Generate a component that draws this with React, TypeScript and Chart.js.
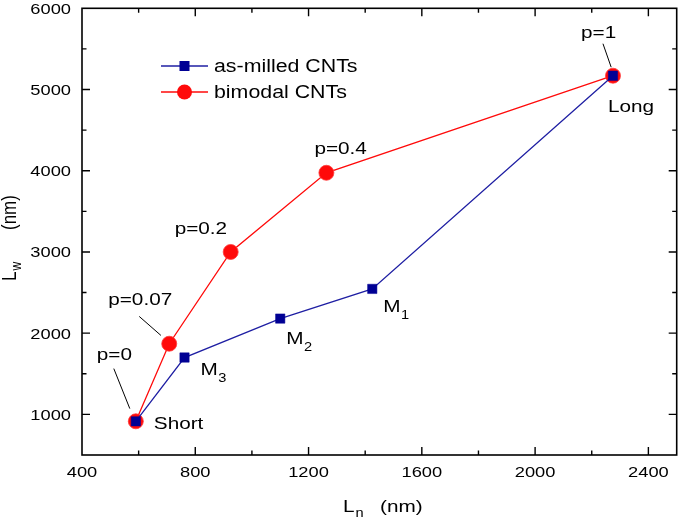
import React, { useEffect, useRef } from "react";
import { Chart, registerables } from "chart.js";

Chart.register(...registerables);

// ---- data ----
const asMilledLn = [590, 762, 1100, 1425, 2275];
const asMilledLw = [915, 1700, 2180, 2545, 5170];
const bimodalLn = [590, 708, 925, 1263, 2275];
const bimodalLw = [915, 1870, 3000, 3975, 5170];
const seriesNames = ["as-milled CNTs", "bimodal CNTs"];
const xTickLabelStep = 400;
const yTickLabelStep = 1000;

// annotation texts attached to data points (dataset index, point index)
const annotationTexts = [
  { text: "p=1", ds: 1, i: 4 },
  { text: "Long", ds: 1, i: 4 },
  { text: "p=0.4", ds: 1, i: 3 },
  { text: "p=0.2", ds: 1, i: 2 },
  { text: "p=0.07", ds: 1, i: 1 },
  { text: "p=0", ds: 1, i: 0 },
  { text: "Short", ds: 0, i: 0 },
  { text: "M", sub: "3", ds: 0, i: 1 },
  { text: "M", sub: "2", ds: 0, i: 2 },
  { text: "M", sub: "1", ds: 0, i: 3 },
];

// ---- layout / style (pixel offsets from the anchor point) ----
const annotationPlacement: Record<string, { dx: number; dy: number; leader?: number[] }> = {
  "p=1": { dx: -32, dy: -38, leader: [-10, -32, -1.8, -8.5] },
  Long: { dx: -5, dy: 36 },
  "p=0.4": { dx: -12, dy: -19 },
  "p=0.2": { dx: -56, dy: -18 },
  "p=0.07": { dx: -61, dy: -39, leader: [-30, -27.3, -8.3, -8.3] },
  "p=0": { dx: -39, dy: -61, leader: [-22, -52.7, -6, -12.7] },
  Short: { dx: 18, dy: 7.3 },
  M3: { dx: 16, dy: 17 },
  M2: { dx: 6, dy: 25 },
  M1: { dx: 11, dy: 23 },
};

const SX = 1.22;
const FONT = '"Liberation Sans", Arial, Helvetica, sans-serif';
const BLUE_LINE = "#1f1fa3";
const BLUE_FILL = "#000094";
const RED = "#ff0a0a";

function font(size: number) {
  return `${size}px ${FONT}`;
}

function drawText(
  ctx: CanvasRenderingContext2D,
  text: string,
  x: number,
  y: number,
  size: number,
  align: CanvasTextAlign = "left"
): number {
  ctx.save();
  ctx.font = font(size);
  ctx.fillStyle = "#000";
  ctx.translate(x, y);
  ctx.scale(SX, 1);
  ctx.textAlign = align;
  ctx.textBaseline = "alphabetic";
  ctx.fillText(text, 0, 0);
  const w = ctx.measureText(text).width * SX;
  ctx.restore();
  return w;
}

const framePlugin = {
  id: "framePlugin",
  afterDraw(chart: any) {
    const ctx: CanvasRenderingContext2D = chart.ctx;
    const { left, right, top, bottom } = chart.chartArea;
    const xs = chart.scales.x;
    const ys = chart.scales.y;
    ctx.save();
    ctx.strokeStyle = "#000";
    ctx.lineWidth = 1.6;
    ctx.strokeRect(left, top, right - left, bottom - top);
    ctx.lineWidth = 1.4;
    // x ticks
    xs.ticks.forEach((t: any) => {
      const v = t.value;
      if (v <= xs.min || v >= xs.max) return;
      const px = xs.getPixelForValue(v);
      const len = v % xTickLabelStep === 0 ? 8 : 4.5;
      ctx.beginPath();
      ctx.moveTo(px, bottom);
      ctx.lineTo(px, bottom - len);
      ctx.moveTo(px, top);
      ctx.lineTo(px, top + len);
      ctx.stroke();
    });
    ys.ticks.forEach((t: any) => {
      const v = t.value;
      if (v <= ys.min || v >= ys.max) return;
      const py = ys.getPixelForValue(v);
      const len = v % yTickLabelStep === 0 ? 8 : 4.5;
      ctx.beginPath();
      ctx.moveTo(left, py);
      ctx.lineTo(left + len, py);
      ctx.moveTo(right, py);
      ctx.lineTo(right - len, py);
      ctx.stroke();
    });
    ctx.restore();

    // tick labels
    xs.ticks.forEach((t: any) => {
      const v = t.value;
      if (v % xTickLabelStep !== 0) return;
      drawText(ctx, String(v), xs.getPixelForValue(v), 477, 15, "center");
    });
    ys.ticks.forEach((t: any) => {
      const v = t.value;
      if (v % yTickLabelStep !== 0) return;
      drawText(ctx, String(v), 71, ys.getPixelForValue(v) + 5.4, 15, "right");
    });

    // x title
    const lw = drawText(ctx, "L", 343, 512, 17);
    drawText(ctx, "n", 343 + lw + 1, 517, 12);
    drawText(ctx, "(nm)", 380, 512, 17);

    // y title (rotated)
    ctx.save();
    ctx.translate(16, 281);
    ctx.rotate(-Math.PI / 2);
    ctx.scale(1, SX);
    ctx.fillStyle = "#000";
    ctx.textBaseline = "alphabetic";
    ctx.font = font(17);
    ctx.fillText("L", 0, 0);
    const Lw = ctx.measureText("L").width;
    ctx.font = font(12);
    ctx.fillText("w", Lw + 1, 4);
    ctx.font = font(17);
    ctx.fillText("(nm)", 51, 0);
    ctx.restore();

    // legend
    const rows = [
      { y: 66, color: BLUE_LINE, fill: BLUE_FILL, square: true, label: seriesNames[0] },
      { y: 92, color: RED, fill: RED, square: false, label: seriesNames[1] },
    ];
    rows.forEach((r) => {
      ctx.save();
      ctx.strokeStyle = r.color;
      ctx.lineWidth = 1.3;
      ctx.beginPath();
      ctx.moveTo(161, r.y);
      ctx.lineTo(208, r.y);
      ctx.stroke();
      ctx.fillStyle = r.fill;
      if (r.square) {
        ctx.fillRect(184.5 - 5, r.y - 5, 10, 10);
      } else {
        ctx.beginPath();
        ctx.arc(184.5, r.y, 7.5, 0, Math.PI * 2);
        ctx.fill();
      }
      ctx.restore();
      drawText(ctx, r.label, 214, r.y + 6.3, 17.5);
    });

    // annotations
    annotationTexts.forEach((a) => {
      const key = a.text + (a.sub || "");
      const pl = annotationPlacement[key];
      if (!pl) return;
      const meta = chart.getDatasetMeta(a.ds);
      const el = meta.data[a.i];
      const x = el.x;
      const y = el.y;
      const w = drawText(ctx, a.text, x + pl.dx, y + pl.dy, 17);
      if (a.sub) {
        drawText(ctx, a.sub, x + pl.dx + w + 0.5, y + pl.dy + 7, 12);
      }
      if (pl.leader) {
        const [x1, y1, x2, y2] = pl.leader;
        ctx.save();
        ctx.strokeStyle = "#000";
        ctx.lineWidth = 1;
        ctx.beginPath();
        ctx.moveTo(x + x1, y + y1);
        ctx.lineTo(x + x2, y + y2);
        ctx.stroke();
        ctx.restore();
      }
    });
  },
};

export default function App() {
  const ref = useRef<HTMLCanvasElement | null>(null);
  useEffect(() => {
    if (!ref.current) return;
    const chart = new Chart(ref.current, {
      type: "line",
      data: {
        datasets: [
          {
            label: seriesNames[0],
            data: asMilledLn.map((x, i) => ({ x, y: asMilledLw[i] })),
            borderColor: BLUE_LINE,
            backgroundColor: BLUE_FILL,
            borderWidth: 1.3,
            pointStyle: "rect",
            pointRadius: 6.6,
            pointBorderWidth: 0.5,
            pointBorderColor: BLUE_FILL,
            pointBackgroundColor: BLUE_FILL,
            tension: 0,
          },
          {
            label: seriesNames[1],
            data: bimodalLn.map((x, i) => ({ x, y: bimodalLw[i] })),
            borderColor: RED,
            backgroundColor: RED,
            borderWidth: 1.3,
            pointStyle: "circle",
            pointRadius: 7.5,
            pointBorderWidth: 0.8,
            pointBorderColor: "#ff3a3a",
            pointBackgroundColor: RED,
            tension: 0,
          },
        ],
      },
      options: {
        animation: false,
        responsive: false,
        devicePixelRatio: 1,
        layout: { padding: { top: 8, right: 1, left: 0, bottom: 0 } },
        plugins: {
          legend: { display: false },
          tooltip: { enabled: false },
        },
        events: [],
        scales: {
          x: {
            type: "linear",
            min: 400,
            max: 2500,
            ticks: { display: false, stepSize: 200, includeBounds: false },
            grid: { display: false },
            border: { display: false },
            afterFit: (s: any) => {
              s.height = 65;
            },
          },
          y: {
            type: "linear",
            min: 500,
            max: 6000,
            ticks: { display: false, stepSize: 500, includeBounds: false },
            grid: { display: false },
            border: { display: false },
            afterFit: (s: any) => {
              s.width = 82;
            },
          },
        },
      } as any,
      plugins: [framePlugin],
    });
    return () => chart.destroy();
  }, []);
  return (
    <div style={{ position: "fixed", left: 0, top: 0, width: 685, height: 520, background: "#fff" }}>
      <canvas ref={ref} width={685} height={520} style={{ display: "block" }} />
    </div>
  );
}
